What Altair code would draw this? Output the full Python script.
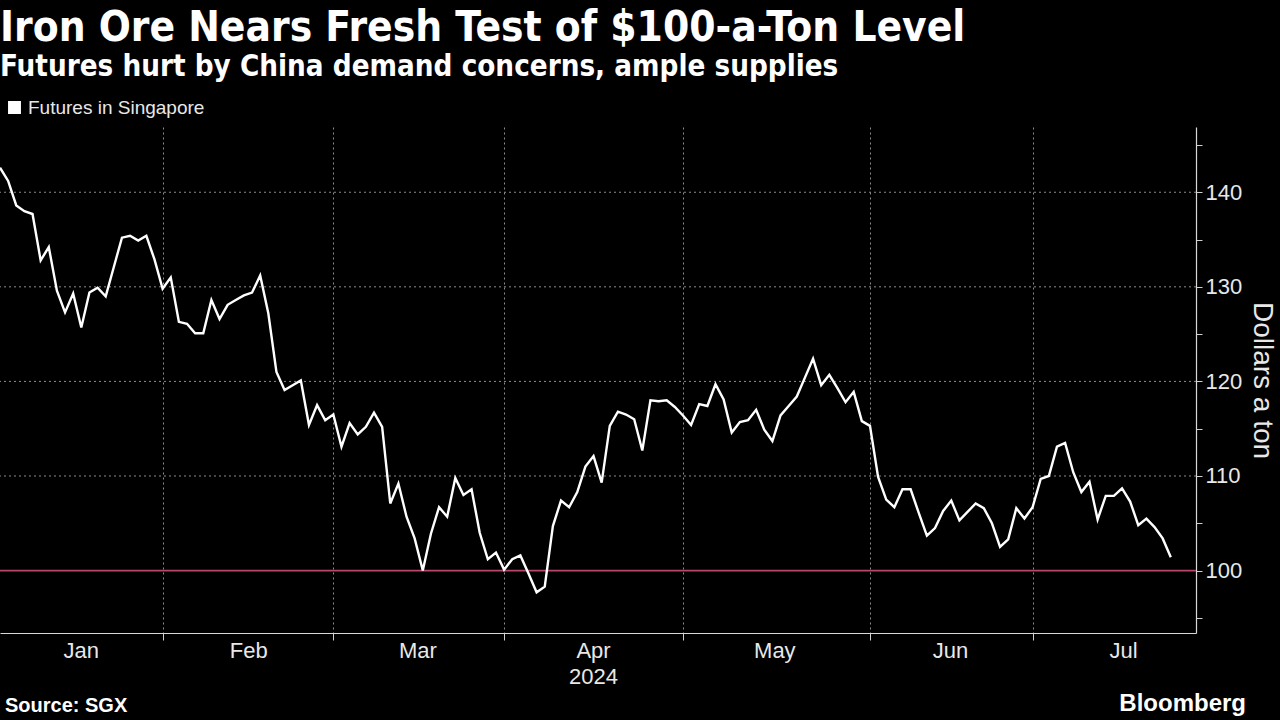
import altair as alt
import pandas as pd

# ---- data ----
price = [
    142.6, 141.2, 138.6, 138.0, 137.7, 132.8, 134.2, 129.6, 127.3, 129.3,
    125.7, 129.4, 129.9, 129.0, 132.1, 135.2, 135.4, 134.9, 135.4, 132.9,
    129.8, 131.0, 126.3, 126.1, 125.1, 125.1, 128.6, 126.6, 128.1, 128.6,
    129.1, 129.4, 131.2, 127.2, 121.0, 119.1, 119.6, 120.1, 115.4, 117.5,
    115.9, 116.5, 113.1, 115.6, 114.4, 115.2, 116.7, 115.2, 107.1, 109.2,
    105.7, 103.4, 100.0, 103.9, 106.7, 105.7, 109.8, 108.0, 108.6, 104.0,
    101.2, 101.9, 100.1, 101.2, 101.6, 99.7, 97.7, 98.3, 104.7, 107.4,
    106.7, 108.3, 111.0, 112.1, 109.3, 115.3, 116.8, 116.5, 116.0, 112.7,
    118.0, 117.9, 118.0, 117.3, 116.4, 115.4, 117.6, 117.4, 119.7, 118.1,
    114.6, 115.7, 115.9, 117.0, 114.9, 113.7, 116.4, 117.4, 118.4, 120.4,
    122.4, 119.6, 120.7, 119.3, 117.8, 118.9, 115.8, 115.3, 109.9, 107.5,
    106.7, 108.6, 108.6, 106.1, 103.7, 104.5, 106.3, 107.4, 105.3, 106.2,
    107.1, 106.6, 105.0, 102.5, 103.3, 106.6, 105.5, 106.7, 109.7, 110.0,
    113.1, 113.5, 110.4, 108.3, 109.4, 105.4, 107.9, 107.9, 108.7, 107.3,
    104.8, 105.5, 104.6, 103.4, 101.4,
]
series_name = "Futures in Singapore"
month_names = ["Jan", "Feb", "Mar", "Apr", "May", "Jun", "Jul"]
month_label_pos = [10, 30.6, 51.4, 73.0, 95.3, 116.9, 138.2]  # trading-day index
year_label = ["2024"]
year_label_pos = [73.0]
y_ticks = [95, 100, 105, 110, 115, 120, 125, 130, 135, 140, 145]
y_grid = [110, 120, 130, 140]
threshold = [100]

dates = pd.bdate_range("2024-01-04", periods=len(price))
df = pd.DataFrame({"i": range(len(price)), "date": dates, "price": price,
                   "series": series_name})
month_starts = [int(i) for i in range(1, len(dates)) if dates[i].month != dates[i - 1].month]

W, H = 1196, 506
FONT = "Liberation Sans"
HEAD_FONT = "'DejaVu Sans Condensed', 'Liberation Sans', sans-serif"
X_DOMAIN = [0, 147.1]
Y_DOMAIN = [93.4, 146.9]

xscale = alt.Scale(domain=X_DOMAIN, nice=False, zero=False)
yscale = alt.Scale(domain=Y_DOMAIN, nice=False, zero=False)

x_axis = alt.Axis(values=month_starts, labels=False, ticks=True, tickSize=7,
                  tickColor="#d0d0d0", domain=True, domainColor="#d8d8d8",
                  domainWidth=1.2, grid=True, gridDash=[2, 3],
                  gridColor="#8c8c8c", gridWidth=1, title=None)
y_axis = alt.Axis(orient="right", values=y_ticks,
                  labelExpr="datum.value % 10 == 0 ? datum.label : ''",
                  labelFontSize=22, labelColor="#e8e8e8", labelFont=FONT,
                  tickSize=6, tickColor="#d0d0d0", domainColor="#d8d8d8",
                  domainWidth=1.2, labelPadding=3, grid=False,
                  title="Dollars a ton", titleFontSize=28, titleColor="#e8e8e8",
                  titleFont=FONT, titleFontWeight="normal", titleAngle=90,
                  titlePadding=6)

line = alt.Chart(df).mark_line(strokeWidth=2.4, clip=True).encode(
    x=alt.X("i:Q", scale=xscale, axis=x_axis),
    y=alt.Y("price:Q", scale=yscale, axis=y_axis),
    color=alt.Color("series:N", scale=alt.Scale(range=["#ffffff"]),
                    legend=alt.Legend(orient="none", legendX=5, legendY=-29, title=None,
                                      symbolType="square", symbolSize=130,
                                      symbolFillColor="#ffffff", symbolStrokeColor="#ffffff",
                                      labelFontSize=19, labelColor="#e8e8e8",
                                      labelFont=FONT, labelOffset=4, labelLimit=400)),
)

grid = alt.Chart(pd.DataFrame({"v": y_grid})).mark_rule(
    strokeDash=[2, 3], color="#8c8c8c", strokeWidth=1
).encode(y=alt.Y("v:Q", scale=yscale, axis=y_axis))

ref = alt.Chart(pd.DataFrame({"v": threshold})).mark_rule(
    color="#b8476a", strokeWidth=1.6
).encode(y=alt.Y("v:Q", scale=yscale, axis=y_axis))

months = alt.Chart(pd.DataFrame({"m": month_names, "p": month_label_pos})).mark_text(
    fontSize=22, font=FONT, color="#e8e8e8", baseline="top", align="center"
).encode(x=alt.X("p:Q", scale=xscale, axis=x_axis), y=alt.value(H + 8), text="m:N")

year = alt.Chart(pd.DataFrame({"m": year_label, "p": year_label_pos})).mark_text(
    fontSize=22, font=FONT, color="#e8e8e8", baseline="top", align="center"
).encode(x=alt.X("p:Q", scale=xscale, axis=x_axis), y=alt.value(H + 34), text="m:N")

source = alt.Chart(pd.DataFrame({"t": ["Source: SGX"]})).mark_text(
    fontSize=20, font=FONT, fontWeight="bold", color="#ffffff", align="left",
    baseline="middle"
).encode(x=alt.value(5), y=alt.value(H + 73), text="t:N")

brand = alt.Chart(pd.DataFrame({"t": ["Bloomberg"]})).mark_text(
    fontSize=24, font=FONT, fontWeight="bold", color="#ffffff", align="right",
    baseline="middle"
).encode(x=alt.value(1246), y=alt.value(H + 71), text="t:N")

chart = alt.layer(grid, ref, line, months, year, source, brand).properties(
    width=W, height=H,
    title=alt.TitleParams(
        text="Iron Ore Nears Fresh Test of $100-a-Ton Level",
        subtitle="Futures hurt by China demand concerns, ample supplies",
        anchor="start", frame="group", font=HEAD_FONT, fontSize=42, fontWeight="bold",
        color="#ffffff", subtitleFont=HEAD_FONT, subtitleFontSize=29.3,
        subtitleFontWeight="bold", subtitleColor="#ffffff", subtitlePadding=3,
        offset=15,
    ),
    autosize=alt.AutoSizeParams(type="none"),
    padding={"left": 0, "top": 127, "right": 84, "bottom": 87},
    background="#000000",
).configure_view(stroke=None)

chart.save("out.html", embed_options={"renderer": "svg", "actions": False})
